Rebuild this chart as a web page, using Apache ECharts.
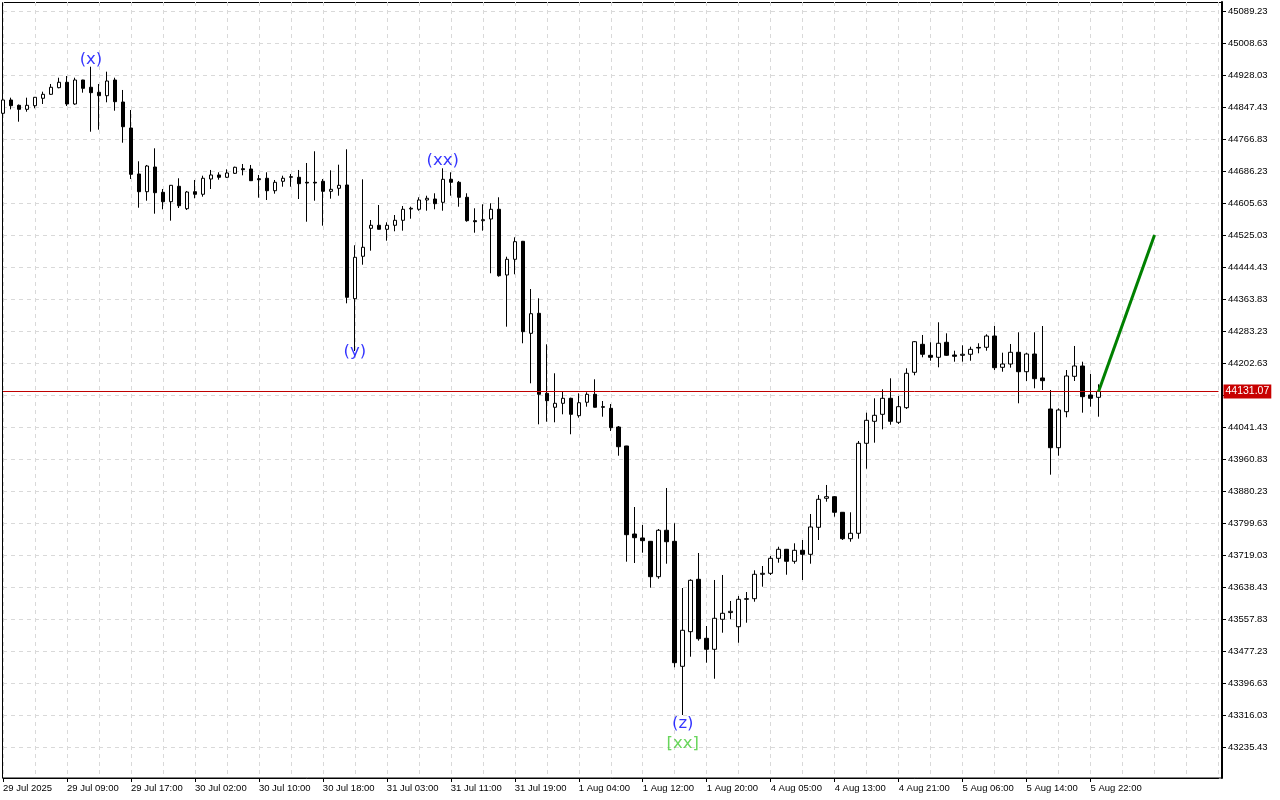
<!DOCTYPE html>
<html><head><meta charset="utf-8">
<script src="https://cdn.jsdelivr.net/npm/echarts@6/dist/echarts.min.js"></script>
<style>html,body{margin:0;padding:0;background:#fff}#c{width:1280px;height:800px}</style>
</head><body><div id="c"></div>
<script>
// ---- categories (hourly bars, 01:00-23:00 each trading day) ----
const days = ['29 Jul','30 Jul','31 Jul','1 Aug','4 Aug','5 Aug','6 Aug'];
const hours = ['01:00','02:00','03:00','04:00','05:00','06:00','07:00','08:00','09:00','10:00','11:00','12:00',
  '13:00','14:00','15:00','16:00','17:00','18:00','19:00','20:00','21:00','22:00','23:00'];
const firstLabel = '29 Jul 2025';
const slotCount = 153;   // bars shown + empty space on the right

// ---- OHLC values ----
const opens = [44831.6,44865.1,44851.7,44841.6,44850.7,44869.4,44879.4,44896.1,44909.7,44855.0,
44915.4,44897.1,44884.5,44875.9,44915.4,44860.0,44794.5,44678.7,44634.1,44696.3,
44632.6,44608.9,44647.7,44591.3,44634.1,44627.6,44666.1,44676.2,44670.4,44680.4,
44692.0,44691.3,44666.8,44667.9,44636.6,44660.3,44670.4,44670.4,44657.8,44657.8,
44660.3,44635.1,44642.7,44651.0,44364.6,44471.4,44541.9,44549.5,44539.4,44549.5,
44562.1,44590.5,44589.8,44613.2,44615.7,44607.4,44665.3,44657.8,44620.0,44561.1,
44561.1,44565.3,44589.8,44424.3,44463.8,44509.2,44277.4,44327.8,44126.3,44091.1,
44101.1,44113.7,44069.9,44103.7,44123.8,44092.6,44088.5,44041.4,43993.6,43771.9,
43761.9,43753.5,43664.4,43781.3,43753.5,43438.7,43525.9,43657.8,43509.2,43481.5,
43557.1,43574.0,43538.4,43607.4,43609.0,43670.4,43672.9,43710.7,43733.4,43703.2,
43730.9,43720.8,43788.8,43861.9,43865.9,43826.6,43760.1,43773.7,44000.4,44055.8,
44073.4,44113.7,44053.3,44090.1,44179.2,44249.7,44222.0,44217.0,44254.8,44222.8,
44222.0,44224.6,44241.9,44242.2,44270.6,44191.8,44200.1,44229.6,44180.7,44225.3,
44164.9,44086.8,43989.3,44080.0,44169.1,44195.1,44122.0,44116.2];
const closes = [44865.1,44850.7,44841.6,44851.7,44871.9,44879.4,44897.1,44909.7,44855.0,44915.4,
44894.5,44883.5,44875.9,44912.9,44860.8,44797.8,44677.9,44634.1,44698.8,44631.6,
44608.9,44650.2,44598.8,44633.3,44627.6,44667.9,44676.2,44670.4,44681.2,44695.6,
44689.5,44661.8,44664.3,44636.6,44657.8,44667.9,44671.9,44654.3,44656.0,44656.0,
44635.1,44640.1,44650.2,44368.1,44468.9,44494.1,44549.5,44539.4,44549.5,44562.1,
44589.8,44592.3,44613.2,44617.5,44603.9,44665.3,44657.8,44620.0,44561.1,44558.5,
44563.6,44589.8,44422.5,44463.8,44508.2,44281.5,44326.8,44123.8,44107.7,44101.1,
44113.7,44073.4,44102.6,44123.8,44091.1,44091.1,44039.7,43991.8,43770.2,43762.6,
43755.1,43664.4,43781.3,43752.5,43447.8,43529.4,43655.3,43508.2,43481.5,43559.6,
43572.2,43577.2,43607.4,43609.0,43670.4,43672.9,43710.7,43733.4,43703.2,43730.9,
43720.8,43789.6,43859.3,43865.9,43826.6,43760.1,43773.7,44000.4,44058.3,44070.9,
44113.7,44055.8,44092.6,44176.7,44256.3,44224.6,44217.0,44252.3,44222.0,44219.5,
44224.6,44237.1,44240.4,44270.6,44190.8,44200.1,44229.6,44180.7,44225.3,44163.1,
44158.1,43989.3,44084.3,44169.9,44195.1,44117.8,44113.7,44131.07];
const lows = [44824.8,44841.6,44810.4,44835.6,44844.2,44855.0,44878.0,44894.5,44850.0,44853.0,
44883.5,44785.2,44790.3,44859.3,44838.1,44757.5,44666.1,44593.8,44611.4,44578.7,
44589.8,44561.1,44593.0,44588.0,44617.5,44621.5,44640.9,44664.3,44668.5,44678.7,
44675.4,44661.0,44619.0,44613.2,44629.1,44646.7,44646.7,44615.7,44558.5,44611.4,
44548.5,44616.5,44624.0,44353.0,44232.9,44450.2,44485.5,44539.0,44510.7,44534.4,
44535.9,44566.1,44586.2,44586.2,44589.8,44586.2,44624.0,44596.3,44558.5,44530.8,
44535.9,44428.6,44420.0,44294.1,44426.1,44252.3,44151.5,44048.2,44054.8,44053.3,
44073.4,44023.1,44064.9,44092.6,44090.5,44067.4,44031.4,43969.1,43702.2,43698.9,
43724.8,43636.7,43659.3,43697.1,43436.2,43316.0,43462.9,43503.2,43447.8,43407.4,
43523.3,43557.1,43498.1,43548.5,43601.4,43639.2,43668.7,43699.6,43669.4,43697.1,
43656.1,43697.1,43756.8,43853.3,43815.5,43756.8,43752.5,43760.1,43936.4,44001.9,
44035.6,44047.2,44049.0,44086.8,44171.7,44217.0,44208.4,44191.8,44220.3,44205.9,
44205.9,44208.4,44227.1,44233.6,44185.0,44180.7,44190.8,44101.1,44157.3,44138.9,
44134.6,43921.3,43969.1,44065.9,44157.3,44077.5,44092.6,44067.4];
const highs = [44871.4,44870.9,44853.7,44870.9,44872.6,44886.0,44905.4,44921.2,44925.5,44921.2,
44916.0,44948.9,44905.4,44936.4,44921.2,44890.3,44839.9,44710.7,44701.4,44743.4,
44640.9,44651.0,44667.9,44635.9,44663.6,44674.4,44688.8,44683.0,44690.5,44697.1,
44703.9,44701.4,44676.2,44683.0,44663.6,44674.4,44678.7,44688.8,44706.4,44735.9,
44666.1,44688.0,44702.1,44740.9,44499.1,44665.3,44562.8,44600.6,44557.0,44575.4,
44598.1,44596.3,44620.0,44624.0,44630.1,44693.0,44683.0,44661.1,44630.1,44592.3,
44602.4,44604.9,44620.0,44470.4,44519.2,44510.0,44389.0,44365.6,44249.7,44176.7,
44130.4,44115.2,44126.3,44128.8,44161.6,44106.9,44099.4,44043.9,43994.0,43839.9,
43794.6,43754.3,43784.5,43887.8,43798.9,43635.9,43657.8,43724.1,43540.2,43656.1,
43668.7,43603.2,43615.8,43625.8,43680.5,43691.3,43716.5,43739.9,43734.2,43748.5,
43756.8,43822.3,43870.2,43895.4,43867.6,43827.3,43826.6,44006.2,44077.5,44113.7,
44136.4,44164.1,44119.5,44189.3,44258.0,44273.2,44254.8,44305.2,44277.4,44233.6,
44247.2,44243.7,44252.3,44274.9,44295.8,44228.6,44250.5,44280.0,44228.6,44280.0,
44295.8,44134.6,44088.5,44185.0,44245.5,44205.9,44174.9,44149.0];

// ---- price axis tick labels ----
const yTicks = [45089.23,45008.63,44928.03,44847.43,44766.83,44686.23,44605.63,44525.03,
  44444.43,44363.83,44283.23,44202.63,44122.03,44041.43,43960.83,43880.23,43799.63,
  43719.03,43638.43,43557.83,43477.23,43396.63,43316.03,43235.43];
const yMin = 43157.35, yMax = 45111.90;
const lastPrice = 44131.07;

// ---- projection line and wave labels ----
const projectionIdx = [137, 144];
const projectionVal = [44131.07, 44525.0];
const waveNames = ['(x)', '(y)', '(xx)', '(z)', '[xx]'];
const waveIdx = [11, 44, 55, 85, 85];
const waveVal = [44965.9, 44230.4, 44711.5, 43293.4, 43243.0];
const waveColors = ['#0000ff', '#0000ff', '#0000ff', '#0000ff', '#44cc33'];

// ---- build ----
const categories = [];
days.forEach(d => hours.forEach(h => categories.push(d + ' ' + h)));
categories.length = slotCount;
const nData = opens.length;
const ohlc = opens.map((o, i) => [o, closes[i], lows[i], highs[i]]);
const proj = projectionIdx.map((x, i) => [x, projectionVal[i]]);
const waves = waveNames.map((n, i) => ({
  name: n, value: [waveIdx[i], waveVal[i]],
  label: { color: waveColors[i] }
}));

const axisFont = 'Liberation Sans';
const gridColor = '#d9d9d9';
const showEvery8 = (i) => i % 8 === 0 && i < nData;

const chart = echarts.init(document.getElementById('c'), null, { renderer: 'canvas' });
chart.setOption({
  animation: false,
  backgroundColor: '#ffffff',
  grid: { left: 2.5, right: 61.5, top: 2, bottom: 22 },
  xAxis: {
    type: 'category', data: categories, boundaryGap: false,
    axisLine: { lineStyle: { color: '#000', width: 1 } },
    axisTick: { interval: showEvery8, length: 4, lineStyle: { color: '#000' } },
    axisLabel: {
      interval: showEvery8, align: 'left', margin: 5, color: '#000',
      fontFamily: axisFont, fontSize: 9.5,
      formatter: (v, i) => i === 0 ? firstLabel : v
    },
    splitLine: { show: true, interval: (i) => i % 4 === 0, lineStyle: { color: gridColor, type: [4, 4] } }
  },
  yAxis: {
    type: 'value', position: 'right', min: yMin, max: yMax, offset: 3.5, scale: true,
    axisLine: { show: true, onZero: false, lineStyle: { color: '#000', width: 2 } },
    axisTick: { show: true, customValues: yTicks, length: 4, lineStyle: { color: '#000' } },
    axisLabel: {
      customValues: yTicks, margin: 6, color: '#000', fontFamily: axisFont, fontSize: 9.5,
      formatter: (v) => Number(v).toFixed(2)
    },
    splitLine: { show: true, lineStyle: { color: gridColor, type: [4, 4] } }
  },
  graphic: [{
    type: 'rect', z: -1, silent: true,
    shape: { x: 2.5, y: 2.5, width: 1219.5, height: 775.5 },
    style: { fill: 'none', stroke: '#000', lineWidth: 1 }
  }],
  series: [
    {
      type: 'candlestick', data: ohlc, barWidth: 4, clip: false,
      itemStyle: { color: '#ffffff', color0: '#000000', borderColor: '#000000', borderColor0: '#000000', borderWidth: 1 },
      markLine: {
        silent: true, symbol: 'none', animation: false,
        data: [{ yAxis: lastPrice }],
        lineStyle: { color: '#c00000', width: 1, type: 'solid' },
        label: {
          show: true, position: 'end', distance: 5,
          formatter: lastPrice.toFixed(2),
          backgroundColor: '#c80000', color: '#fff', padding: [2, 2, 1, 2],
          fontFamily: axisFont, fontSize: 10.5
        }
      }
    },
    {
      type: 'line', data: proj, symbol: 'none', z: 5,
      lineStyle: { color: '#008000', width: 3 }
    },
    {
      type: 'scatter', data: waves, symbol: 'circle', symbolSize: 2, z: 6,
      itemStyle: { color: 'rgba(0,0,0,0)' },
      label: { show: true, position: 'inside', formatter: '{b}', fontFamily: 'DejaVu Sans', fontSize: 16.5 }
    }
  ]
});
</script>
</body></html>
